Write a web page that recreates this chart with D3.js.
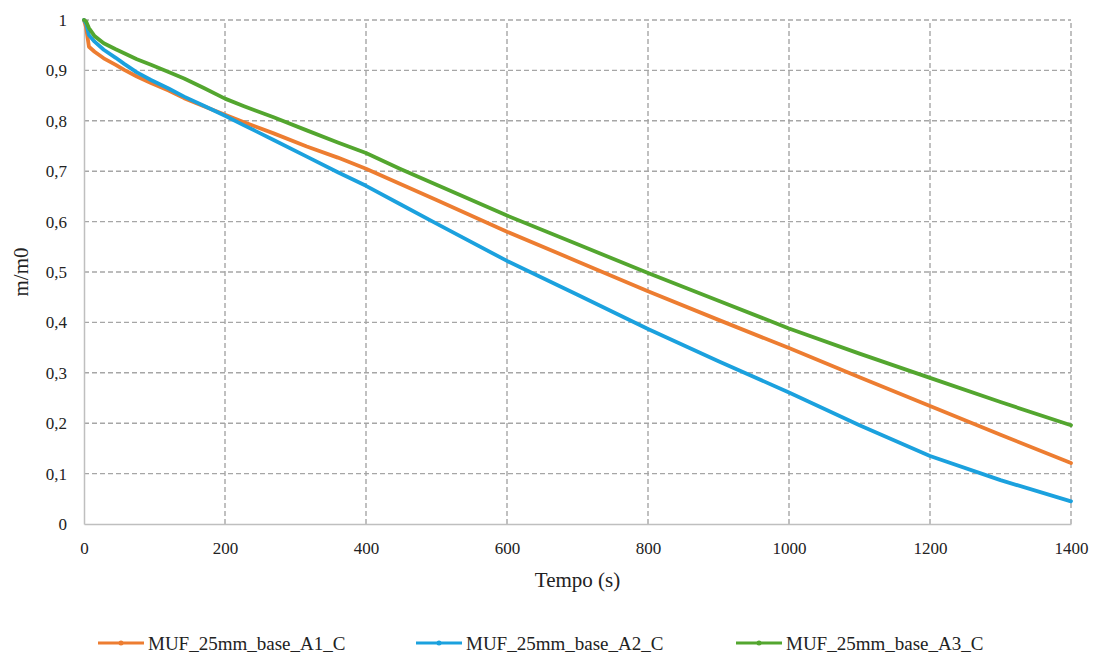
<!DOCTYPE html>
<html>
<head>
<meta charset="utf-8">
<script src="https://cdn.jsdelivr.net/npm/d3@7"></script>
<style>
  html, body { margin: 0; padding: 0; background: #fff; }
  svg, svg text { font-family: "Liberation Serif", "Times New Roman", Times, serif; }
</style>
</head>
<body>
<svg id="chart" width="1100" height="655"></svg>
<script>
// Time samples (s)
const tempo = [0, 3, 7, 15, 28, 45, 57, 75, 95, 120, 142, 170, 200, 227, 269, 316, 360, 400, 448, 500, 600, 700, 800, 900, 1000, 1100, 1200, 1300, 1400];

// m/m0 for each specimen
const a1 = [1, 0.985, 0.947, 0.937, 0.924, 0.911, 0.901, 0.888, 0.875, 0.86, 0.845, 0.829, 0.812, 0.797, 0.775, 0.749, 0.727, 0.705, 0.675, 0.643, 0.58, 0.521, 0.462, 0.405, 0.349, 0.291, 0.234, 0.177, 0.121];
const a2 = [1, 0.993, 0.97, 0.957, 0.941, 0.925, 0.913, 0.896, 0.881, 0.864, 0.848, 0.83, 0.81, 0.791, 0.762, 0.729, 0.698, 0.671, 0.635, 0.596, 0.522, 0.455, 0.387, 0.323, 0.261, 0.196, 0.135, 0.087, 0.045];
const a3 = [1, 0.997, 0.984, 0.968, 0.954, 0.942, 0.934, 0.922, 0.911, 0.897, 0.884, 0.865, 0.844, 0.829, 0.807, 0.781, 0.757, 0.736, 0.705, 0.673, 0.612, 0.555, 0.498, 0.443, 0.388, 0.338, 0.29, 0.242, 0.196];

const seriesNames = ["MUF_25mm_base_A1_C", "MUF_25mm_base_A2_C", "MUF_25mm_base_A3_C"];
const seriesColors = ["#ED7D31", "#1BA1DE", "#53A62F"];
const xTicks = [0, 200, 400, 600, 800, 1000, 1200, 1400];
const yTicks = [0, 0.1, 0.2, 0.3, 0.4, 0.5, 0.6, 0.7, 0.8, 0.9, 1];

const series = [a1, a2, a3].map((vals, i) => ({
  name: seriesNames[i],
  color: seriesColors[i],
  points: tempo.map((t, j) => [t, vals[j]])
}));

const FONT = '"Liberation Serif", "Times New Roman", Times, serif';
const svg = d3.select("#chart");
const margin = { left: 84, right: 29, top: 20, bottom: 131 };
const W = 1100, H = 655;

const x = d3.scaleLinear().domain([0, 1400]).range([margin.left, W - margin.right]);
const y = d3.scaleLinear().domain([0, 1]).range([H - margin.bottom, margin.top]);

const fmt = v => v === 0 ? "0" : (v === 1 ? "1" : d3.format(".1f")(v).replace(".", ","));

// dashed gridlines
const grid = svg.append("g");
grid.selectAll("line.h").data(yTicks.filter(v => v > 0)).join("line")
  .attr("x1", x(0)).attr("x2", x(1400))
  .attr("y1", d => y(d)).attr("y2", d => y(d))
  .attr("stroke", "#A6A6A6").attr("stroke-width", 1.4).attr("stroke-dasharray", "5,3");
grid.selectAll("line.v").data(xTicks.filter(v => v > 0)).join("line")
  .attr("y1", y(0)).attr("y2", y(1))
  .attr("x1", d => x(d)).attr("x2", d => x(d))
  .attr("stroke", "#A6A6A6").attr("stroke-width", 1.4).attr("stroke-dasharray", "5,3");

// axes
const xAxis = svg.append("g")
  .attr("transform", `translate(0,${y(0)})`)
  .call(d3.axisBottom(x).tickValues(xTicks).tickSize(0).tickPadding(18).tickFormat(d3.format("d")));
const yAxis = svg.append("g")
  .attr("transform", `translate(${x(0)},0)`)
  .call(d3.axisLeft(y).tickValues(yTicks).tickSize(0).tickPadding(17).tickFormat(fmt));
[xAxis, yAxis].forEach(g => {
  g.attr("font-family", FONT).attr("font-size", 17);
  g.select(".domain").attr("stroke", "#BFBFBF").attr("stroke-width", 1.5);
  g.selectAll("text").attr("fill", "#222");
});

// data lines
const line = d3.line().x(d => x(d[0])).y(d => y(d[1]));
svg.append("g").selectAll("path").data(series).join("path")
  .attr("d", d => line(d.points))
  .attr("fill", "none")
  .attr("stroke", d => d.color)
  .attr("stroke-width", 3.8)
  .attr("stroke-linejoin", "round")
  .attr("stroke-linecap", "round");

// axis titles
svg.append("text")
  .attr("x", (x(0) + x(1400)) / 2).attr("y", 587)
  .attr("text-anchor", "middle").attr("font-size", 21).attr("fill", "#222")
  .attr("font-family", FONT)
  .text("Tempo (s)");
svg.append("text")
  .attr("transform", `translate(28,${(y(0) + y(1)) / 2}) rotate(-90)`)
  .attr("text-anchor", "middle").attr("font-size", 21).attr("fill", "#222")
  .attr("font-family", FONT)
  .text("m/m0");

// legend
const legendX = [98, 416, 736];
const legend = svg.append("g").selectAll("g").data(series).join("g")
  .attr("transform", (d, i) => `translate(${legendX[i]},643)`);
legend.append("line")
  .attr("x1", 0).attr("x2", 46).attr("y1", 0).attr("y2", 0)
  .attr("stroke", d => d.color).attr("stroke-width", 3);
legend.append("circle")
  .attr("cx", 23).attr("cy", 0).attr("r", 2.5)
  .attr("fill", d => d.color);
legend.append("text")
  .attr("x", 50).attr("y", 7)
  .attr("font-size", 19).attr("fill", "#222")
  .attr("font-family", FONT)
  .text(d => d.name);
</script>
</body>
</html>
